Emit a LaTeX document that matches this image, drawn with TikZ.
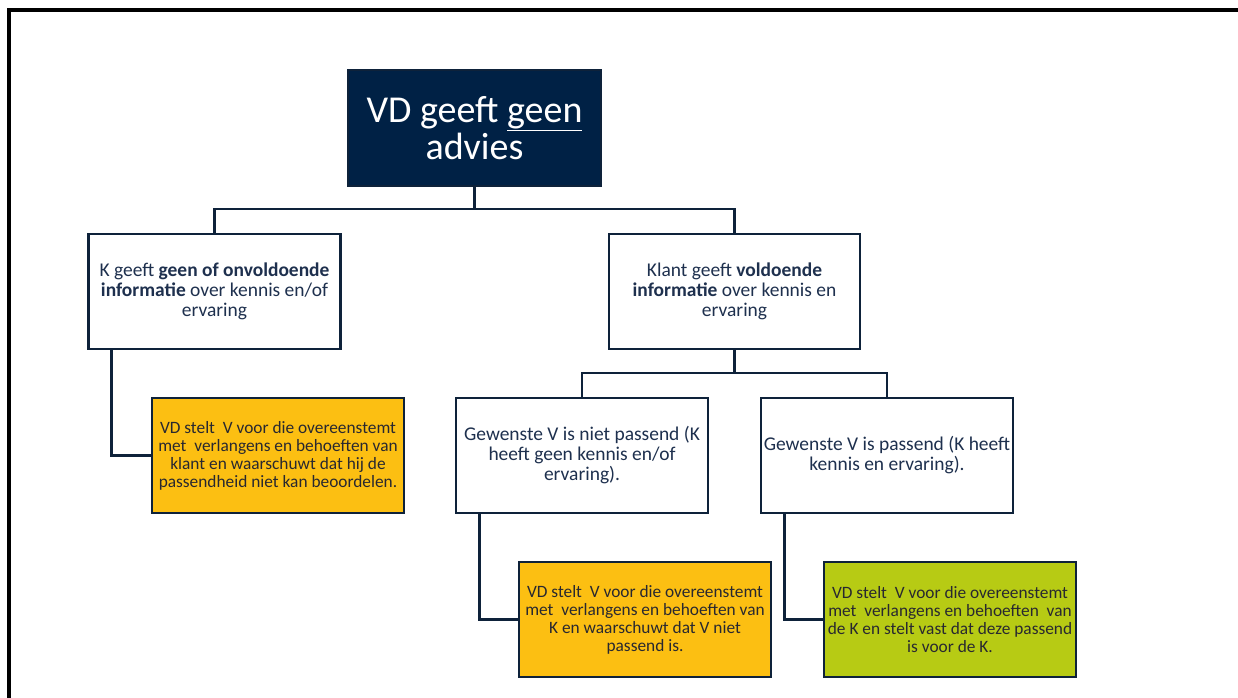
\documentclass[tikz,border=0pt]{standalone}
\usepackage{fontspec}
\setmainfont{Carlito}
\definecolor{navy}{RGB}{0,33,69}
\definecolor{edge}{RGB}{14,34,58}
\definecolor{bluetext}{RGB}{30,48,78}
\definecolor{darktext}{RGB}{40,40,48}
\definecolor{boxyellow}{RGB}{252,191,18}
\definecolor{boxgreen}{RGB}{183,203,20}
\begin{document}
\begin{tikzpicture}[x=0.75pt,y=-0.75pt,
  basebox/.style={draw=edge,line width=1.9pt,minimum width=189pt,minimum height=86.25pt,inner sep=0pt,align=center},
  whitebox/.style={basebox,fill=white,text=bluetext,font=\fontsize{14.6}{15}\selectfont},
  yelbox/.style={basebox,fill=boxyellow,text=darktext,font=\fontsize{13}{13.5}\selectfont},
  grnbox/.style={basebox,fill=boxgreen,text=darktext,font=\fontsize{13}{13.5}\selectfont},
  topbox/.style={basebox,fill=navy,text=white,minimum width=189.75pt,minimum height=87pt,font=\fontsize{28.5}{28}\selectfont},
  conn/.style={draw=edge,line width=1.9pt}]
\useasboundingbox (0,0) rectangle (1238,698);
% frame
\draw[black,line width=2.3pt] (1238,10) -- (9,10) -- (9,698);
% nodes
\node[topbox] (top) at (474.5,128) {VD geeft \underline{geen}\\advies};
\node[whitebox] (L1) at (214.5,291.5) {K geeft \textbf{geen of onvoldoende}\\\textbf{informatie} over kennis en/of\\ervaring};
\node[whitebox,minimum width=188.25pt] (R1) at (734.5,291.5) {Klant geeft \textbf{voldoende}\\\textbf{informatie} over kennis en\\ervaring};
\node[yelbox] (Y1) at (278,455.5) {VD stelt\ \ V voor die overeenstemt\\met\ \ verlangens en behoeften van\\klant en waarschuwt dat hij de\\passendheid niet kan beoordelen.};
\node[whitebox] (G1) at (582,455.5) {Gewenste V is niet passend (K\\heeft geen kennis en/of\\ervaring).};
\node[whitebox] (G2) at (887,455.5) {Gewenste V is passend (K heeft\\kennis en ervaring).};
\node[yelbox] (Y2) at (645,619.5) {VD stelt\ \ V voor die overeenstemt\\met\ \ verlangens en behoeften van\\K en waarschuwt dat V niet\\passend is.};
\node[grnbox] (GR) at (950,619.5) {VD stelt\ \ V voor die overeenstemt\\met\ \ verlangens en behoeften\ \ van\\de K en stelt vast dat deze passend\\is voor de K.};
% connectors
\coordinate (bus1) at (474.5,209);
\coordinate (bus2) at (734.5,373);
\draw[conn] (top.south) -- (bus1) -| (L1.north);
\draw[conn] (bus1) -| (R1.north);
\draw[conn] ([xshift=18pt]L1.south west) |- (Y1.west);
\draw[conn] (R1.south) -- (bus2) -| (G1.north);
\draw[conn] (bus2) -| (G2.north);
\draw[conn] ([xshift=18.75pt]G1.south west) |- (Y2.west);
\draw[conn] ([xshift=18.75pt]G2.south west) |- (GR.west);
\end{tikzpicture}
\end{document}
